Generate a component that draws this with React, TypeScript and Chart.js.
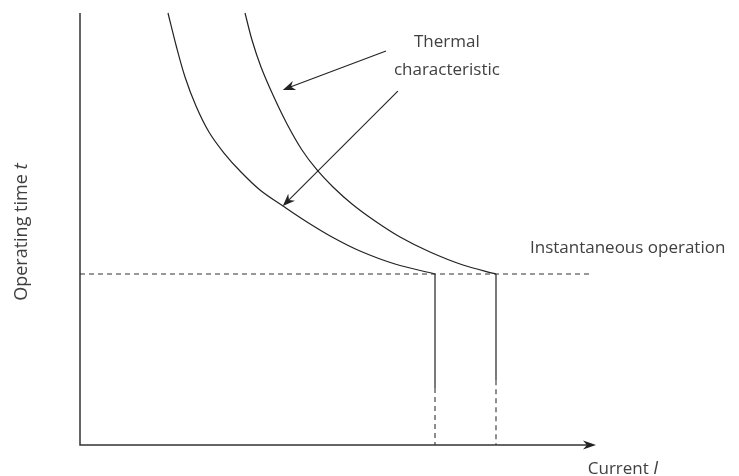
import React, { useEffect, useRef } from "react";
import { Chart, registerables } from "chart.js";

Chart.register(...registerables);

// Thermal characteristic curves (x: current, y: operating time)
const curve1X = [17.05, 18.6, 20.35, 22.48, 24.99, 27.91, 31.2, 34.88, 39.34, 43.99, 48.84, 54.26, 61.05, 68.8];
const curve1Y = [100, 92.59, 85.19, 78.47, 72.45, 67.59, 63.19, 59.03, 55.32, 51.62, 48.15, 44.91, 41.9, 39.58];
const curve2X = [31.98, 33.33, 35.08, 37.4, 40.12, 43.02, 45.93, 49.03, 52.71, 57.17, 62.02, 67.83, 74.22, 80.62];
const curve2Y = [100, 93.75, 87.5, 81.02, 74.31, 68.29, 63.66, 59.72, 55.79, 51.85, 48.15, 44.68, 41.67, 39.58];

// Instantaneous operation level and trip currents
const instantTime = 39.58;
const instantLineEnd = 99.4;
const tripCurrents = [68.8, 80.62];
const solidEnds = [13.2, 15.0];

// Callout arrows: from (x, y) to (x, y)
const arrowFromX = [59.3, 61.6];
const arrowFromY = [91.2, 81.9];
const arrowToX = [39.3, 39.3];
const arrowToY = [82.2, 55.3];

const calloutLines = ["Thermal", "characteristic"];
const instantLabel = "Instantaneous operation";
const xTitle = "Current ";
const xTitleVar = "I";
const yTitle = "Operating time ";
const yTitleVar = "t";

const FONT = "'Open Sans', 'Noto Sans', sans-serif";
const TEXT = "#404040";
const FS = 17;
const FSY = 18;

function arrowHead(ctx: CanvasRenderingContext2D, fx: number, fy: number, tx: number, ty: number, L: number, W: number) {
  const a = Math.atan2(ty - fy, tx - fx);
  const dx = Math.cos(a), dy = Math.sin(a);
  const px = -dy, py = dx;
  ctx.beginPath();
  ctx.moveTo(tx, ty);
  ctx.lineTo(tx - L * dx + W * px, ty - L * dy + W * py);
  ctx.lineTo(tx - 0.7 * L * dx, ty - 0.7 * L * dy);
  ctx.lineTo(tx - L * dx - W * px, ty - L * dy - W * py);
  ctx.closePath();
  ctx.fill();
}

const decorPlugin = {
  id: "decor",
  afterDatasetsDraw(chart: any) {
    const { ctx, chartArea, scales } = chart;
    const xs = scales.x, ys = scales.y;
    ctx.save();
    // axes
    ctx.strokeStyle = "#333";
    ctx.fillStyle = "#222";
    ctx.lineWidth = 1.5;
    ctx.beginPath();
    ctx.moveTo(chartArea.left, chartArea.top);
    ctx.lineTo(chartArea.left, chartArea.bottom);
    ctx.lineTo(chartArea.right - 6, chartArea.bottom);
    ctx.stroke();
    arrowHead(ctx, chartArea.left, chartArea.bottom, chartArea.right, chartArea.bottom, 13, 4.5);

    // callout arrows
    ctx.lineWidth = 1.1;
    ctx.strokeStyle = "#222";
    for (let i = 0; i < arrowFromX.length; i++) {
      const fx = xs.getPixelForValue(arrowFromX[i]);
      const fy = ys.getPixelForValue(arrowFromY[i]);
      const tx = xs.getPixelForValue(arrowToX[i]);
      const ty = ys.getPixelForValue(arrowToY[i]);
      const a = Math.atan2(ty - fy, tx - fx);
      ctx.beginPath();
      ctx.moveTo(fx, fy);
      ctx.lineTo(tx - 8 * Math.cos(a), ty - 8 * Math.sin(a));
      ctx.stroke();
      arrowHead(ctx, fx, fy, tx, ty, 12.5, 4.8);
    }

    // texts
    ctx.fillStyle = TEXT;
    ctx.font = `${FS}px ${FONT}`;
    ctx.textBaseline = "middle";
    ctx.textAlign = "center";
    const cx = xs.getPixelForValue(71.1);
    ctx.fillText(calloutLines[0], cx, ys.getPixelForValue(93.3));
    ctx.fillText(calloutLines[1], cx, ys.getPixelForValue(86.8));

    ctx.textAlign = "left";
    ctx.fillText(instantLabel, xs.getPixelForValue(87.2), ys.getPixelForValue(45.6));

    // x title
    const xtX = xs.getPixelForValue(98.4);
    const xtY = chartArea.bottom + 24;
    ctx.font = `${FS}px ${FONT}`;
    ctx.fillText(xTitle, xtX, xtY);
    const w1 = ctx.measureText(xTitle).width;
    ctx.font = `italic ${FS + 1}px ${FONT}`;
    ctx.fillText(xTitleVar, xtX + w1, xtY);

    // y title (rotated)
    ctx.save();
    ctx.translate(22, ys.getPixelForValue(49.3));
    ctx.rotate(-Math.PI / 2);
    ctx.font = `${FSY}px ${FONT}`;
    const wa = ctx.measureText(yTitle).width;
    ctx.font = `italic ${FSY + 1}px ${FONT}`;
    const wb = ctx.measureText(yTitleVar).width;
    const start = -(wa + wb) / 2;
    ctx.textAlign = "left";
    ctx.font = `${FSY}px ${FONT}`;
    ctx.fillText(yTitle, start, 0);
    ctx.font = `italic ${FSY + 1}px ${FONT}`;
    ctx.fillText(yTitleVar, start + wa, 0);
    ctx.restore();

    ctx.restore();
  },
};

export default function App() {
  const ref = useRef<HTMLCanvasElement>(null);
  useEffect(() => {
    if (!ref.current) return;
    const pts = (xs: number[], ys: number[]) => xs.map((x, i) => ({ x, y: ys[i] }));
    const base = { showLine: true, pointRadius: 0, borderWidth: 1.2, borderColor: "#222", clip: false as any, fill: false, tension: 0 };
    const datasets: any[] = [
      { ...base, data: pts(curve1X, curve1Y), tension: 0.35 },
      { ...base, data: pts(curve2X, curve2Y), tension: 0.35 },
      { ...base, borderColor: "#333", borderWidth: 1.1, borderDash: [5, 4], data: [{ x: 0, y: instantTime }, { x: instantLineEnd, y: instantTime }] },
    ];
    tripCurrents.forEach((c, i) => {
      datasets.push({ ...base, data: [{ x: c, y: instantTime }, { x: c, y: solidEnds[i] }] });
      datasets.push({ ...base, borderColor: "#333", borderWidth: 1.1, borderDash: [5, 4], data: [{ x: c, y: solidEnds[i] }, { x: c, y: 0 }] });
    });
    const chart = new Chart(ref.current, {
      type: "scatter",
      data: { datasets },
      options: {
        animation: false,
        responsive: false,
        devicePixelRatio: 1,
        layout: { padding: { left: 80, top: 13, right: 143, bottom: 31 } },
        plugins: { legend: { display: false }, tooltip: { enabled: false } },
        scales: {
          x: { type: "linear", min: 0, max: 100, display: false },
          y: { type: "linear", min: 0, max: 100, display: false },
        },
      },
      plugins: [decorPlugin],
    });
    return () => chart.destroy();
  }, []);
  return (
    <div style={{ position: "fixed", left: 0, top: 0, width: 739, height: 476, background: "#fff" }}>
      <canvas ref={ref} width={739} height={476} style={{ display: "block" }} />
    </div>
  );
}
